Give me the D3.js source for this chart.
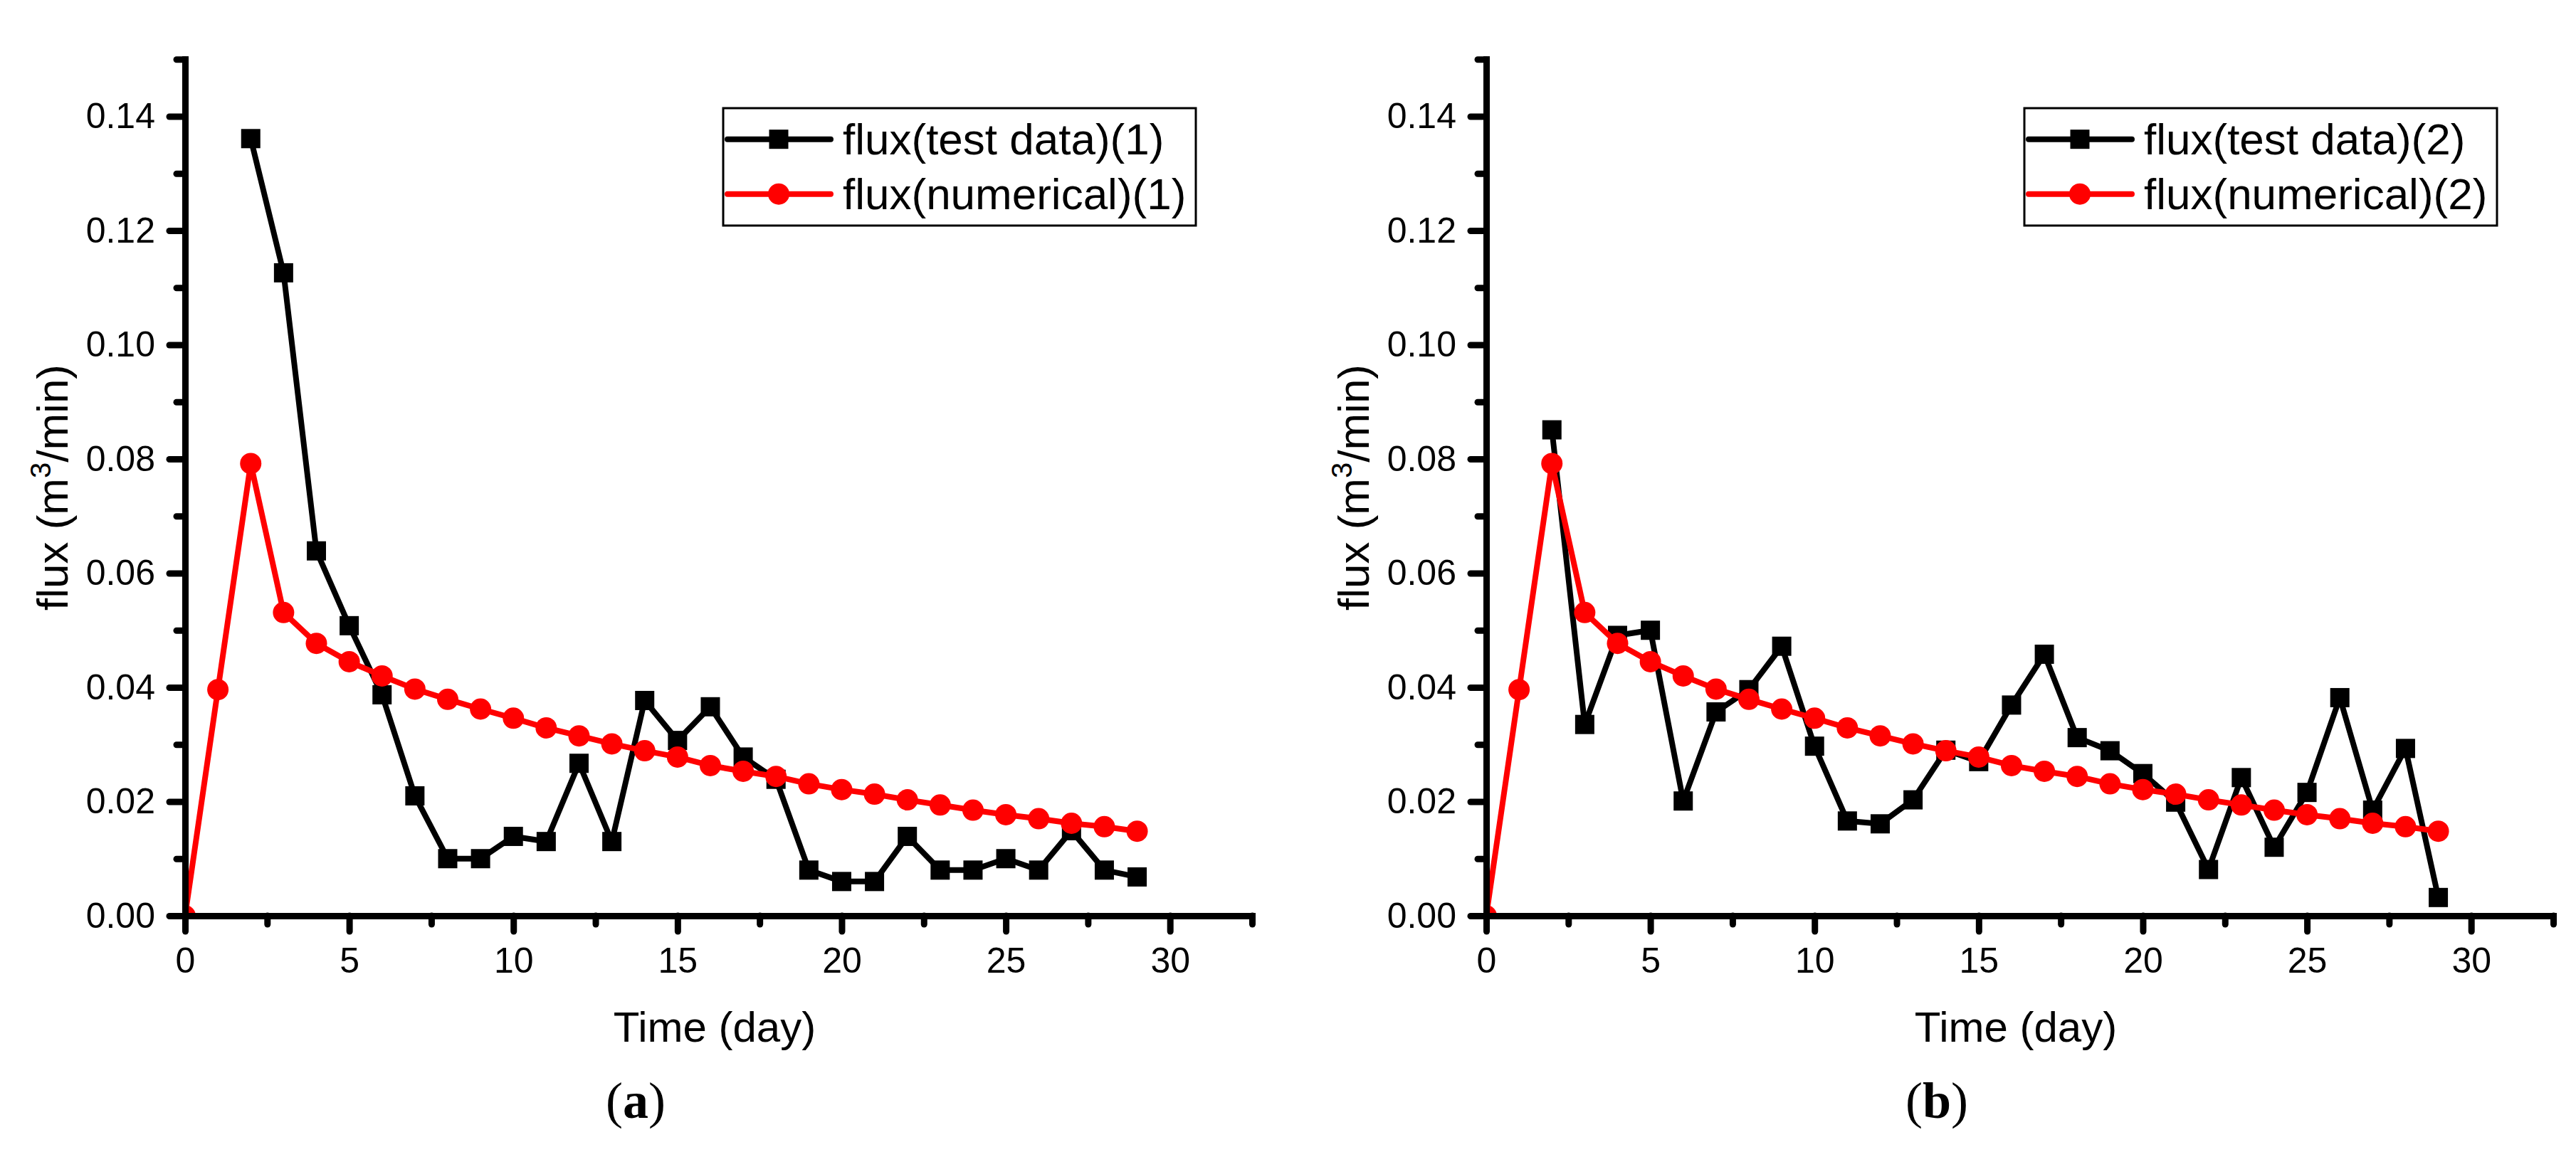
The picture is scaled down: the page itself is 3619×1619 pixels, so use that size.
<!DOCTYPE html>
<html>
<head>
<meta charset="utf-8">
<script src="https://cdn.jsdelivr.net/npm/d3@7"></script>
<style>
body { margin: 0; background: #fff; }
text { font-family: "Liberation Sans", Arial, sans-serif; fill: #000; }
</style>
</head>
<body>
<svg id="fig" width="3619" height="1619"></svg>
<script>

var days = [0, 1, 2, 3, 4, 5, 6, 7, 8, 9, 10, 11, 12, 13, 14, 15, 16, 17, 18, 19, 20, 21, 22, 23, 24, 25, 26, 27, 28, 29];

var numerical = [0, 0.0396, 0.0792, 0.0531, 0.0477, 0.0445, 0.0420, 0.0397, 0.0379, 0.0362,
	0.0346, 0.0329, 0.0315, 0.0301, 0.0289, 0.0278, 0.0263, 0.0253, 0.0244, 0.0231,
	0.0221, 0.0213, 0.0203, 0.0194, 0.0185, 0.0177, 0.0170, 0.0162, 0.0156, 0.0148];

var testData1 = [null, null, 0.1361, 0.1126, 0.0639, 0.0508, 0.0387, 0.0210, 0.0100, 0.0100,
	0.0139, 0.0130, 0.0267, 0.0130, 0.0377, 0.0307, 0.0366, 0.0278, 0.0239, 0.0080,
	0.0060, 0.0060, 0.0139, 0.0080, 0.0080, 0.0100, 0.0080, 0.0149, 0.0080, 0.0068];

var testData2 = [null, null, 0.0851, 0.0335, 0.0491, 0.0500, 0.0201, 0.0357, 0.0396, 0.0472,
	0.0297, 0.0166, 0.0161, 0.0203, 0.0290, 0.0270, 0.0369, 0.0458, 0.0312, 0.0289,
	0.0249, 0.0199, 0.0081, 0.0242, 0.0120, 0.0216, 0.0382, 0.0185, 0.0293, 0.0032];

var xTicks = [0, 5, 10, 15, 20, 25, 30];
var xMinorTicks = [2.5, 7.5, 12.5, 17.5, 22.5, 27.5, 32.5];
var yTicks = [0, 0.02, 0.04, 0.06, 0.08, 0.10, 0.12, 0.14];
var yMinorTicks = [0.01, 0.03, 0.05, 0.07, 0.09, 0.11, 0.13, 0.15];

var testNames = ['flux(test data)(1)', 'flux(test data)(2)'];
var numNames = ['flux(numerical)(1)', 'flux(numerical)(2)'];
var panelLetters = ['a', 'b'];

var svg = d3.select('#fig');

svg.append('rect')
	.attr('width', 3619)
	.attr('height', 1619)
	.attr('fill', '#fff');

var plot = { left: 260, right: 1759, top: 83.25, bottom: 1287 };

var drawPanel = function (offset, test, idx) {

	var g = svg.append('g')
		.attr('transform', 'translate(' + offset + ',0)');

	var x = d3.scaleLinear().domain([0, 32.5]).range([plot.left, plot.right]);
	var y = d3.scaleLinear().domain([0, 0.15]).range([plot.bottom, plot.top]);

	g.append('clipPath')
		.attr('id', 'clip' + idx)
		.append('rect')
		.attr('x', plot.left)
		.attr('y', plot.top)
		.attr('width', plot.right - plot.left)
		.attr('height', plot.bottom - plot.top);

	var area = g.append('g').attr('clip-path', 'url(#clip' + idx + ')');

	var testPts = [];
	var numPts = [];
	days.forEach(function (d, i) {
		if (test[i] !== null) testPts.push([d, test[i]]);
		numPts.push([d, numerical[i]]);
	});

	var line = d3.line()
		.x(function (d) { return x(d[0]); })
		.y(function (d) { return y(d[1]); });

	// test data: black line + squares
	area.append('path')
		.datum(testPts)
		.attr('d', line)
		.attr('fill', 'none')
		.attr('stroke', '#000')
		.attr('stroke-width', 8)
		.attr('stroke-linejoin', 'round');

	area.selectAll('rect.sq')
		.data(testPts)
		.enter()
		.append('rect')
		.attr('class', 'sq')
		.attr('x', function (d) { return x(d[0]) - 13.5; })
		.attr('y', function (d) { return y(d[1]) - 13.5; })
		.attr('width', 27)
		.attr('height', 27)
		.attr('fill', '#000');

	// numerical: red line + circles
	area.append('path')
		.datum(numPts)
		.attr('d', line)
		.attr('fill', 'none')
		.attr('stroke', '#ff0000')
		.attr('stroke-width', 8)
		.attr('stroke-linejoin', 'round');

	area.selectAll('circle.dot')
		.data(numPts)
		.enter()
		.append('circle')
		.attr('class', 'dot')
		.attr('cx', function (d) { return x(d[0]); })
		.attr('cy', function (d) { return y(d[1]); })
		.attr('r', 15)
		.attr('fill', '#ff0000');

	// axes
	var styleAxis = function (sel) {
		sel.selectAll('.tick line')
			.attr('stroke', '#000')
			.attr('stroke-width', 9)
			.attr('stroke-linecap', 'round');
		sel.selectAll('path.domain')
			.attr('stroke', '#000')
			.attr('stroke-width', 9);
		sel.selectAll('.tick text')
			.attr('font-size', 50)
			.attr('font-family', '"Liberation Sans", Arial, sans-serif');
	};

	g.append('g')
		.attr('transform', 'translate(0,' + plot.bottom + ')')
		.call(d3.axisBottom(x).tickValues(xMinorTicks).tickSize(12).tickSizeOuter(0).tickFormat(''))
		.call(styleAxis);

	g.append('g')
		.attr('transform', 'translate(0,' + plot.bottom + ')')
		.call(d3.axisBottom(x).tickValues(xTicks).tickSize(22).tickSizeOuter(0).tickPadding(22).tickFormat(d3.format('d')))
		.call(styleAxis);

	g.append('g')
		.attr('transform', 'translate(' + plot.left + ',0)')
		.call(d3.axisLeft(y).tickValues(yMinorTicks).tickSize(12).tickSizeOuter(0).tickFormat(''))
		.call(styleAxis);

	g.append('g')
		.attr('transform', 'translate(' + plot.left + ',0)')
		.call(d3.axisLeft(y).tickValues(yTicks).tickSize(22).tickSizeOuter(0).tickPadding(20).tickFormat(d3.format('.2f')))
		.call(styleAxis);

	g.selectAll('.domain').attr('stroke-linecap', 'square');

	// axis titles
	g.append('text')
		.attr('x', 1004)
		.attr('y', 1464)
		.attr('text-anchor', 'middle')
		.attr('font-size', 60)
		.text('Time (day)');

	var yt = g.append('text')
		.attr('transform', 'translate(95,685) rotate(-90)')
		.attr('text-anchor', 'middle')
		.attr('font-size', 62);
	yt.append('tspan').text('flux (m');
	yt.append('tspan').attr('font-size', 40).attr('dy', -24).text('3');
	yt.append('tspan').attr('dy', 24).text('/min)');

	// legend
	var lg = g.append('g');
	lg.append('rect')
		.attr('x', 1016)
		.attr('y', 152)
		.attr('width', 664)
		.attr('height', 165)
		.attr('fill', '#fff')
		.attr('stroke', '#000')
		.attr('stroke-width', 3);

	var rows = [
		{ name: testNames[idx], color: '#000', shape: 'square', cy: 195.7 },
		{ name: numNames[idx], color: '#ff0000', shape: 'circle', cy: 272.7 }
	];

	rows.forEach(function (r) {
		lg.append('line')
			.attr('x1', 1022).attr('x2', 1167)
			.attr('y1', r.cy).attr('y2', r.cy)
			.attr('stroke', r.color)
			.attr('stroke-width', 8)
			.attr('stroke-linecap', 'round');
		if (r.shape === 'square') {
			lg.append('rect')
				.attr('x', 1094 - 13.5).attr('y', r.cy - 13.5)
				.attr('width', 27).attr('height', 27)
				.attr('fill', r.color);
		} else {
			lg.append('circle')
				.attr('cx', 1094).attr('cy', r.cy)
				.attr('r', 15)
				.attr('fill', r.color);
		}
		lg.append('text')
			.attr('x', 1184)
			.attr('y', r.cy + 21.5)
			.attr('font-size', 62)
			.text(r.name);
	});

	// panel letter
	var pl = g.append('text')
		.attr('x', 893)
		.attr('y', 1571)
		.attr('text-anchor', 'middle')
		.attr('font-size', 72)
		.style('font-family', '"Liberation Serif", "Times New Roman", serif');
	pl.append('tspan').text('(');
	pl.append('tspan').attr('font-weight', 'bold').text(panelLetters[idx]);
	pl.append('tspan').text(')');
};

drawPanel(0, testData1, 0);
drawPanel(1828, testData2, 1);

</script>
</body>
</html>
